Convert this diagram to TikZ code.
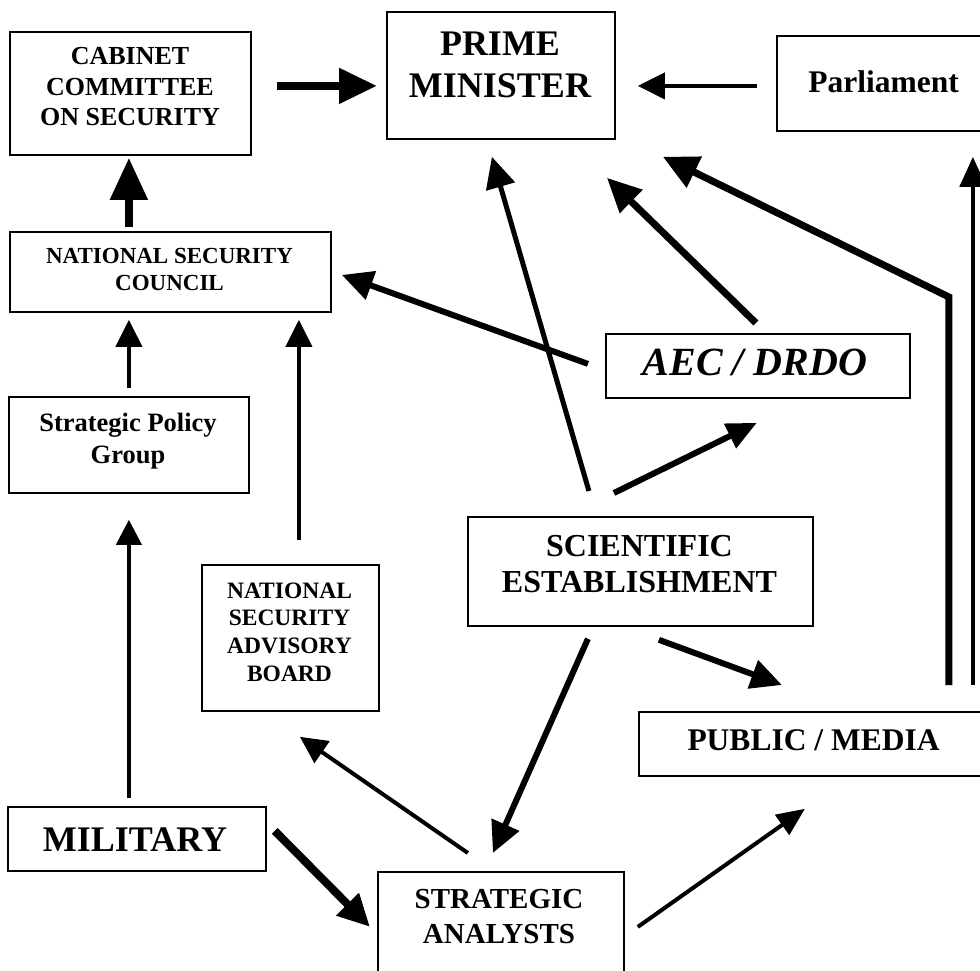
\documentclass[tikz,border=0pt]{standalone}
\usepackage{fontspec}
\setmainfont{Liberation Serif}
\usetikzlibrary{arrows.meta}

\begin{document}
\begin{tikzpicture}[x=1pt, y=-1pt, line join=miter,
    box/.style={draw, line width=1.8pt, inner sep=0pt, anchor=north west},
    lbl/.style={align=center, inner sep=0pt},
    thinarrow/.style={line width=4pt, -{Triangle[length=27pt, width=26pt]}},
    midarrow/.style={line width=6pt, -{Triangle[length=31pt, width=29pt]}},
    heavyarrow/.style={line width=8pt, -{Triangle[length=38pt, width=34pt]}}]
    \useasboundingbox (0,0) rectangle (980,971);
    \clip (0,0) rectangle (980,971);

    % boxes
    \node[box, minimum width=241, minimum height=123] (ccs) at (9,31) {};
    \node[box, minimum width=228, minimum height=127] (pm) at (386,11) {};
    \node[box, minimum width=216, minimum height=95] (parl) at (776,35) {};
    \node[box, minimum width=321, minimum height=80] (nsc) at (9,231) {};
    \node[box, minimum width=304, minimum height=64] (aec) at (605,333) {};
    \node[box, minimum width=240, minimum height=96] (spg) at (8,396) {};
    \node[box, minimum width=345, minimum height=109] (sci) at (467,516) {};
    \node[box, minimum width=177, minimum height=146] (nsab) at (201,564) {};
    \node[box, minimum width=351, minimum height=64] (pub) at (638,711) {};
    \node[box, minimum width=258, minimum height=64] (mil) at (7,806) {};
    \node[box, minimum width=246, minimum height=110] (sa) at (377,871) {};

    % texts
    \node[lbl, font=\bfseries\fontsize{26}{30.5}\selectfont] (ccstext) at (130,87) {CABINET\\COMMITTEE\\ON SECURITY};
    \node[lbl, font=\bfseries\fontsize{36}{42}\selectfont] (pmtext) at (500,64.5) {PRIME\\MINISTER};
    \node[lbl, font=\bfseries\fontsize{31.5}{36}\selectfont] (parltext) at (883.5,82) {Parliament};
    \node[lbl, font=\bfseries\fontsize{23}{27}\selectfont] (nsctext) at (169.5,269.5) {NATIONAL SECURITY\\COUNCIL};
    \node[lbl, font=\bfseries\itshape\fontsize{40}{44}\selectfont] (aectext) at (755,362.5) {AEC / DRDO};
    \node[lbl, font=\bfseries\fontsize{26.5}{31.5}\selectfont] (spgtext) at (128,441) {Strategic Policy\\Group};
    \node[lbl, font=\bfseries\fontsize{32}{36.5}\selectfont] (scitext) at (639.5,564) {SCIENTIFIC\\ESTABLISHMENT};
    \node[lbl, font=\bfseries\fontsize{23.5}{27.7}\selectfont] (nsabtext) at (289.5,632) {NATIONAL\\SECURITY\\ADVISORY\\BOARD};
    \node[lbl, font=\bfseries\fontsize{31.5}{36}\selectfont] (pubtext) at (813.5,740) {PUBLIC / MEDIA};
    \node[lbl, font=\bfseries\fontsize{36}{42}\selectfont] (miltext) at (135,839.5) {MILITARY};
    \node[lbl, font=\bfseries\fontsize{29}{35}\selectfont] (satext) at (499,916.5) {STRATEGIC\\ANALYSTS};

    % arrows
    \draw[heavyarrow] ([shift={(25,-7.5)}]ccs.east) -- ([shift={(-9,10.5)}]pm.west);
    \draw[thinarrow] ([shift={(-19,2.5)}]parl.west) -- ([shift={(22,10.5)}]pm.east);
    \draw[heavyarrow, -{Triangle[length=42pt, width=36pt]}] ([shift={(-41.5,-4)}]nsc.north) -- ([shift={(-1.5,2)}]ccs.south);
    \draw[thinarrow] ([shift={(0,-8)}]spg.north) -- ([shift={(-41.5,7)}]nsc.south);
    \draw[thinarrow] ([shift={(8.5,-24)}]nsab.north) -- ([shift={(128.5,7)}]nsc.south);
    \draw[thinarrow, -{Triangle[length=25pt, width=25pt]}] ([shift={(-8,-8)}]mil.north) -- ([shift={(0,26)}]spg.south);
    \draw[midarrow] ([shift={(-17,-2)}]aec.west) -- ([shift={(10,3)}]nsc.east);
    \draw[midarrow, line width=7pt, -{Triangle[length=34pt, width=31pt]}] ([shift={(-2,-10)}]aec.north) -- ([shift={(106,38)}]pm.south);
    \draw[midarrow, line width=5pt] ([shift={(-51.5,-25)}]sci.north) -- ([shift={(-9,17)}]pm.south);
    \draw[midarrow, line width=7pt, -{Triangle[length=35pt, width=33pt]}] ([shift={(134.5,-26)}]pub.north) -- ++(0,-388) -- ([shift={(162,17)}]pm.south);
    \draw[thinarrow, line width=4.5pt, -{Triangle[length=30pt, width=26pt]}] ([shift={(158.5,-26)}]pub.north) -- ([shift={(88,25)}]parl.south);
    \draw[midarrow, -{Triangle[length=30pt, width=26pt]}] ([shift={(-26.5,-23)}]sci.north) -- ([shift={(-1,24)}]aec.south);
    \draw[midarrow] ([shift={(18.5,13)}]sci.south) -- ([shift={(-32.5,-26)}]pub.north);
    \draw[midarrow] ([shift={(-52.5,12)}]sci.south) -- ([shift={(-8,-18)}]sa.north);
    \draw[thinarrow] ([shift={(-33,-18)}]sa.north) -- ([shift={(9.5,25)}]nsab.south);
    \draw[thinarrow, -{Triangle[length=28pt, width=24pt]}] ([shift={(13,0)}]sa.east) -- ([shift={(-9.5,32)}]pub.south);
    \draw[heavyarrow, -{Triangle[length=32pt, width=30pt]}] ([shift={(8,-8)}]mil.east) -- ([shift={(-7,0)}]sa.west);
\end{tikzpicture}
\end{document}
